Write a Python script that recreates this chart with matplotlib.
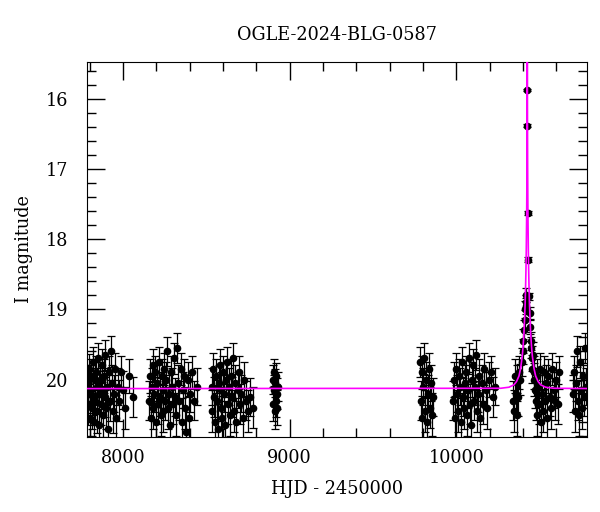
#OGLE light curve with a point-lens model drawn over it
import numpy as np
import matplotlib
matplotlib.use("Agg")
import matplotlib.pyplot as plt
from matplotlib.ticker import MultipleLocator

plt.rcParams['font.family'] = ['DejaVu Serif']

title = "OGLE-2024-BLG-0587"

#season 1
t1 = [7789, 7793, 7797, 7800, 7804, 7808, 7811, 7815, 7819, 7822, 7826, 7830, 7834, 7838, 7842,
      7846, 7850, 7855, 7859, 7863, 7868, 7872, 7877, 7881, 7886, 7890, 7895, 7900, 7905, 7910,
      7916, 7921, 7927, 7933, 7939, 7946, 7953, 7960, 7968, 7977, 7988, 8000, 8015, 8035, 8060]
m1 = [20.05, 20.35, 19.85, 20.2, 20.55, 19.95, 20.15, 20.4, 19.75, 20.25, 20.6, 20.0, 20.3, 19.9, 20.45,
      20.1, 19.7, 20.2, 20.65, 20.0, 20.35, 19.8, 20.15, 20.5, 19.95, 20.25, 19.65, 20.4, 20.1, 20.7,
      19.9, 20.3, 19.6, 20.05, 20.45, 20.2, 19.85, 20.55, 20.1, 20.3, 19.9, 20.15, 20.4, 19.95, 20.25]
e1 = [0.25, 0.3, 0.22, 0.28, 0.33, 0.24, 0.27, 0.3, 0.22, 0.26, 0.34, 0.25, 0.29, 0.23, 0.31,
      0.26, 0.22, 0.28, 0.35, 0.25, 0.3, 0.23, 0.27, 0.32, 0.24, 0.28, 0.21, 0.31, 0.26, 0.35,
      0.24, 0.29, 0.22, 0.25, 0.31, 0.27, 0.23, 0.33, 0.26, 0.29, 0.24, 0.27, 0.3, 0.24, 0.28]

#season 2
t2 = [8157, 8162, 8168, 8173, 8178, 8183, 8189, 8194, 8199, 8205, 8210, 8216, 8221, 8227, 8232,
      8238, 8243, 8249, 8255, 8260, 8266, 8272, 8278, 8284, 8290, 8296, 8302, 8308, 8314, 8320,
      8326, 8333, 8339, 8346, 8352, 8359, 8366, 8373, 8380, 8388, 8396, 8405, 8415, 8428, 8443]
m2 = [20.3, 19.95, 20.55, 20.1, 19.8, 20.4, 20.2, 19.9, 20.6, 20.05, 20.35, 19.75, 20.25, 20.5, 19.95,
      20.15, 20.45, 19.85, 20.3, 20.0, 19.6, 20.4, 20.2, 20.65, 19.9, 20.1, 20.35, 19.7, 20.25, 20.5,
      19.55, 20.05, 20.3, 19.85, 20.6, 20.15, 19.95, 20.4, 20.75, 20.0, 20.55, 20.2, 19.9, 20.3, 20.1]
e2 = [0.28, 0.24, 0.32, 0.26, 0.23, 0.3, 0.27, 0.24, 0.33, 0.25, 0.29, 0.22, 0.27, 0.31, 0.24,
      0.26, 0.3, 0.23, 0.28, 0.25, 0.21, 0.3, 0.27, 0.34, 0.24, 0.26, 0.29, 0.22, 0.27, 0.31,
      0.21, 0.25, 0.28, 0.23, 0.33, 0.26, 0.24, 0.3, 0.35, 0.25, 0.32, 0.27, 0.24, 0.28, 0.26]

#season 3
t3 = [8532, 8537, 8542, 8548, 8553, 8558, 8564, 8569, 8575, 8580, 8586, 8591, 8597, 8603, 8608,
      8614, 8620, 8626, 8632, 8638, 8644, 8650, 8656, 8662, 8668, 8675, 8681, 8688, 8695, 8702,
      8710, 8718, 8727, 8737, 8748, 8762, 8778]
m3 = [20.1, 20.45, 19.85, 20.25, 20.6, 19.95, 20.3, 20.7, 20.05, 19.8, 20.4, 20.15, 20.55, 19.9, 20.2,
      20.65, 20.0, 19.75, 20.35, 20.1, 20.5, 19.95, 20.25, 19.7, 20.45, 20.05, 20.6, 20.15, 19.9, 20.35,
      20.2, 20.55, 20.0, 20.3, 20.45, 20.25, 20.4]
e3 = [0.26, 0.3, 0.23, 0.28, 0.33, 0.24, 0.29, 0.35, 0.25, 0.23, 0.3, 0.26, 0.32, 0.24, 0.27,
      0.34, 0.25, 0.22, 0.29, 0.26, 0.31, 0.24, 0.28, 0.22, 0.3, 0.25, 0.33, 0.26, 0.24, 0.29,
      0.27, 0.32, 0.25, 0.28, 0.3, 0.27, 0.29]

#short run near 8900
t4 = [8898, 8901, 8904, 8907, 8910, 8913, 8916, 8919, 8922, 8925, 8928]
m4 = [20.0, 20.35, 19.9, 20.15, 20.45, 20.05, 20.3, 19.95, 20.2, 20.4, 20.1]
e4 = [0.2, 0.24, 0.19, 0.22, 0.26, 0.2, 0.23, 0.19, 0.22, 0.25, 0.21]

#season 5
t5 = [9782, 9787, 9792, 9797, 9802, 9807, 9812, 9818, 9823, 9829, 9835, 9841, 9848, 9856, 9863]
m5 = [19.75, 20.3, 19.9, 20.55, 20.1, 19.7, 20.45, 20.0, 20.6, 20.2, 19.85, 20.4, 20.05, 20.5, 20.25]
e5 = [0.22, 0.28, 0.24, 0.32, 0.26, 0.22, 0.3, 0.25, 0.33, 0.27, 0.23, 0.29, 0.25, 0.31, 0.27]

#season 6
t6 = [9978, 9984, 9990, 9996, 10002, 10008, 10014, 10020, 10026, 10032, 10038, 10044, 10050, 10056, 10062,
      10068, 10074, 10080, 10086, 10092, 10098, 10104, 10110, 10117, 10124, 10131, 10138, 10145, 10152, 10160,
      10168, 10177, 10186, 10196, 10207, 10220, 10235]
m6 = [20.3, 20.0, 20.55, 19.85, 20.2, 20.45, 19.95, 20.1, 20.6, 19.75, 20.25, 20.4, 20.05, 19.9, 20.5,
      20.15, 19.7, 20.35, 20.65, 20.0, 19.8, 20.3, 20.1, 19.65, 20.45, 20.2, 19.95, 20.55, 20.05, 20.35,
      19.85, 20.15, 20.4, 20.0, 19.9, 20.25, 20.1]
e6 = [0.28, 0.25, 0.32, 0.23, 0.27, 0.3, 0.24, 0.26, 0.33, 0.22, 0.27, 0.3, 0.25, 0.24, 0.31,
      0.26, 0.22, 0.29, 0.34, 0.25, 0.23, 0.28, 0.26, 0.22, 0.3, 0.27, 0.24, 0.32, 0.25, 0.29,
      0.23, 0.26, 0.3, 0.25, 0.24, 0.28, 0.26]

#season 7, with the event
t7 = [10342, 10348, 10353, 10358, 10363, 10367, 10372, 10377, 10385, 10392, 10398, 10403, 10407, 10411,
      10414, 10416, 10418, 10420, 10424.8, 10425.4, 10429.8, 10433, 10437.5, 10440, 10443, 10446, 10449,
      10452, 10456, 10460, 10464, 10468, 10472, 10477, 10482, 10487, 10492, 10497, 10502, 10508, 10514,
      10520, 10526, 10532, 10538, 10545, 10552, 10560, 10568, 10576, 10584, 10592, 10600, 10610, 10618]
m7 = [20.3, 20.45, 19.95, 20.2, 20.5, 20.05, 20.25, 19.9, 20.0, 19.75, 19.6, 19.45, 19.3, 19.15,
      19.0, 18.9, 18.95, 18.8, 16.38, 15.87, 17.62, 18.29, 18.81, 19.05, 19.25, 19.45, 19.55,
      19.7, 19.85, 19.65, 20.0, 19.9, 20.15, 20.3, 19.95, 20.5, 20.1, 20.35, 19.85, 20.6, 20.2,
      20.45, 19.9, 20.3, 20.05, 20.55, 19.95, 20.25, 20.4, 19.85, 20.15, 20.3, 20.0, 20.35, 19.9]
e7 = [0.28, 0.3, 0.24, 0.27, 0.31, 0.25, 0.27, 0.23, 0.22, 0.2, 0.18, 0.17, 0.15, 0.14,
      0.12, 0.11, 0.11, 0.1, 0.02, 0.02, 0.03, 0.04, 0.05, 0.08, 0.1, 0.13, 0.15,
      0.18, 0.2, 0.18, 0.24, 0.23, 0.26, 0.28, 0.24, 0.31, 0.26, 0.29, 0.23, 0.33, 0.27,
      0.3, 0.24, 0.28, 0.25, 0.32, 0.24, 0.27, 0.3, 0.23, 0.26, 0.28, 0.25, 0.29, 0.24]

#season 8
t8 = [10702, 10707, 10712, 10717, 10722, 10728, 10734, 10740, 10746, 10752, 10758, 10764, 10770, 10776]
m8 = [20.2, 19.9, 20.45, 20.05, 19.6, 20.3, 20.5, 19.75, 20.15, 20.4, 19.95, 20.25, 19.55, 20.1]
e8 = [0.27, 0.24, 0.3, 0.25, 0.22, 0.28, 0.31, 0.23, 0.26, 0.3, 0.24, 0.27, 0.22, 0.26]

#model curve (point lens, peak near 10426)
t_model = [7700, 10266, 10316, 10346, 10361, 10376, 10386, 10396, 10401, 10406, 10410, 10413, 10416,
           10418, 10420, 10422, 10423, 10424, 10425, 10425.5, 10426, 10426.5, 10427, 10428, 10429,
           10430, 10432, 10434, 10436, 10439, 10442, 10446, 10451, 10456, 10466, 10476, 10491,
           10506, 10536, 10586, 10850]
m_model = [20.13, 20.125, 20.11, 20.075, 20.03, 19.95, 19.84, 19.66, 19.52, 19.33, 19.12, 18.92, 18.65,
           18.42, 18.12, 17.69, 17.38, 16.95, 16.25, 15.68, 15.13, 15.68, 16.25, 16.95, 17.38,
           17.69, 18.12, 18.42, 18.65, 18.92, 19.12, 19.33, 19.52, 19.66, 19.84, 19.95, 20.03,
           20.075, 20.11, 20.125, 20.13]

seasons = [(t1, m1, e1), (t2, m2, e2), (t3, m3, e3), (t4, m4, e4),
           (t5, m5, e5), (t6, m6, e6), (t7, m7, e7), (t8, m8, e8)]

fig = plt.figure(figsize=(6, 5.12), dpi=100)
ax = fig.add_axes([0.145, 0.1465, 0.833, 0.7325])

for t, m, e in seasons:
    ax.errorbar(t, m, yerr=e, fmt='o', color='black', ms=4.5, ecolor='black',
                elinewidth=0.9, capsize=3, capthick=0.9, zorder=2)

ax.plot(t_model, m_model, color='#ff00ff', lw=1.2, zorder=3)

ax.set_xlim(7784, 10783)
ax.set_ylim(20.82, 15.47)

ax.xaxis.set_major_locator(MultipleLocator(1000))
ax.xaxis.set_minor_locator(MultipleLocator(200))
ax.yaxis.set_major_locator(MultipleLocator(1))
ax.yaxis.set_minor_locator(MultipleLocator(0.2))
ax.tick_params(which='both', direction='in', top=True, right=True, width=1, labelsize=12.7)
ax.tick_params(which='major', length=13)
ax.tick_params(which='minor', length=6.5)
ax.tick_params(axis='x', which='major', pad=9)
ax.tick_params(axis='y', which='major', pad=13.5)

ax.set_title(title, fontsize=12.7, pad=16)
ax.set_xlabel("HJD - 2450000", fontsize=12.7, labelpad=9)
ax.set_ylabel("I magnitude", fontsize=12.7, labelpad=9)

fig.savefig("out.png", dpi=100)
